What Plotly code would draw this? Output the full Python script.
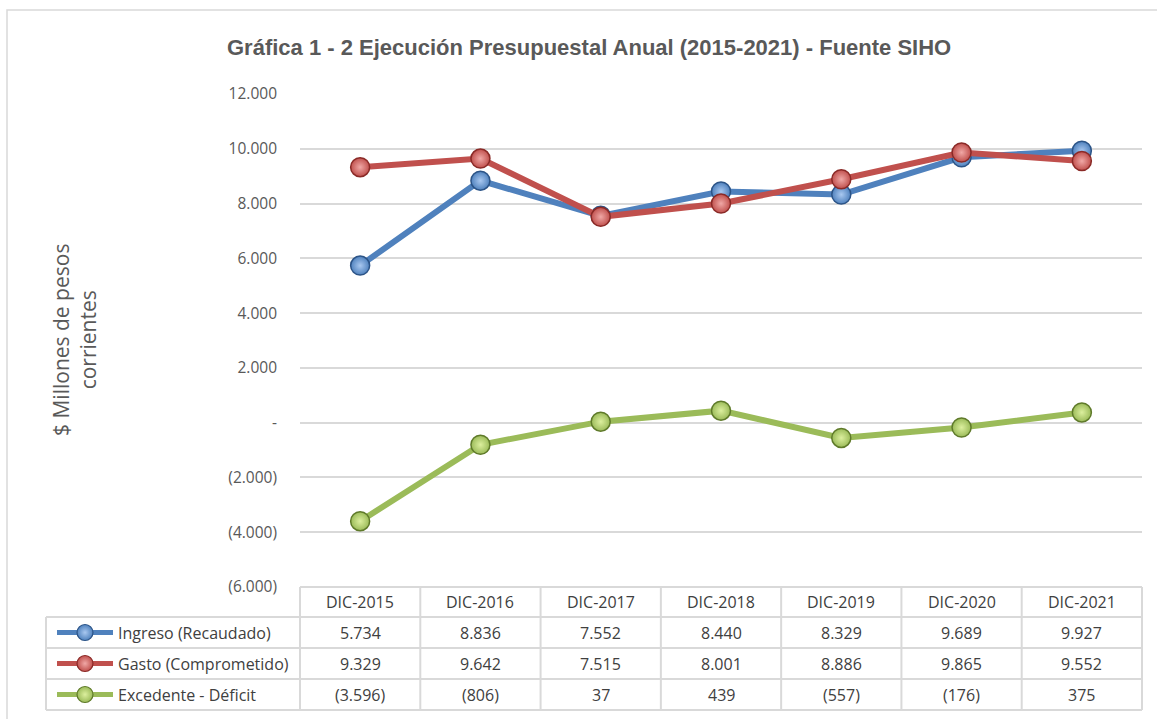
import plotly.graph_objects as go

# ---------------- data ----------------
categories = ["DIC-2015", "DIC-2016", "DIC-2017", "DIC-2018", "DIC-2019", "DIC-2020", "DIC-2021"]
ingreso = [5734, 8836, 7552, 8440, 8329, 9689, 9927]
gasto = [9329, 9642, 7515, 8001, 8886, 9865, 9552]
excedente = [-3596, -806, 37, 439, -557, -176, 375]
series_names = ["Ingreso (Recaudado)", "Gasto (Comprometido)", "Excedente - Déficit"]
y_ticks = [-6000, -4000, -2000, 0, 2000, 4000, 6000, 8000, 10000, 12000]

title_text = "Gráfica 1 - 2 Ejecución Presupuestal Anual (2015-2021) - Fuente SIHO"
y_title = "$ Millones de pesos<br>corrientes"

# ---------------- style ----------------
W, H = 1157, 719
colors = ["#4f81bd", "#c0504d", "#9bbb59"]
edge = ["#2c5487", "#8a2a27", "#5f7a2a"]
glow = ["#a9c8f0", "#f0a8a6", "#dcef9e"]
grid = "#d9d9d9"
txt = "#595959"
FONT = "'Open Sans', Calibri, sans-serif"


def fmt(v):
    if v == 0:
        return "-"
    s = f"{abs(v):,}".replace(",", ".")
    return f"({s})" if v < 0 else s


def px(x):
    return x / W


def py(y):
    return 1 - y / H


plot_l, plot_r, plot_t, plot_b = 300, 1142, 94, 587
row_lines = [587, 617, 648, 679, 710]
tab_left = 46

fig = go.Figure()
all_series = [ingreso, gasto, excedente]
for i, (name, vals) in enumerate(zip(series_names, all_series)):
    fig.add_trace(go.Scatter(
        x=categories, y=vals, name=name, mode="lines+markers",
        line=dict(color=colors[i], width=6),
        marker=dict(size=19, color=colors[i],
                    line=dict(color=edge[i], width=1.5),
                    gradient=dict(type="radial", color=glow[i])),
        showlegend=False, xaxis="x", yaxis="y",
    ))

# legend keys inside the data table (overlay axis in pixel units)
for i, name in enumerate(series_names):
    yc = (row_lines[i + 1] + row_lines[i + 2]) / 2
    fig.add_trace(go.Scatter(
        x=[57, 113], y=[yc, yc], mode="lines",
        line=dict(color=colors[i], width=5),
        showlegend=False, xaxis="x2", yaxis="y2", hoverinfo="skip"))
    fig.add_trace(go.Scatter(
        x=[85], y=[yc], mode="markers",
        marker=dict(size=16, color=colors[i],
                    line=dict(color=edge[i], width=1.2),
                    gradient=dict(type="radial", color=glow[i])),
        showlegend=False, xaxis="x2", yaxis="y2", hoverinfo="skip"))

shapes = []
# chart border
shapes.append(dict(type="rect", xref="paper", yref="paper",
                   x0=px(7), x1=px(W + 5), y0=py(H + 5), y1=py(10),
                   line=dict(color=grid, width=1.5), fillcolor="rgba(0,0,0,0)"))
# table horizontal lines
for k, yl in enumerate(row_lines):
    x0 = plot_l if k == 0 else tab_left
    shapes.append(dict(type="line", xref="paper", yref="paper",
                       x0=px(x0), x1=px(plot_r), y0=py(yl), y1=py(yl),
                       line=dict(color=grid, width=2)))
# table vertical lines
ncol = len(categories)
colw = (plot_r - plot_l) / ncol
for k in range(ncol + 1):
    xl = plot_l + k * colw
    shapes.append(dict(type="line", xref="paper", yref="paper",
                       x0=px(xl), x1=px(xl), y0=py(row_lines[0]), y1=py(row_lines[-1]),
                       line=dict(color=grid, width=2)))
shapes.append(dict(type="line", xref="paper", yref="paper",
                   x0=px(tab_left), x1=px(tab_left), y0=py(row_lines[1]), y1=py(row_lines[-1]),
                   line=dict(color=grid, width=2)))

annotations = []
# title
annotations.append(dict(text=f"<b>{title_text}</b>", x=px(589), y=py(47), xref="paper", yref="paper",
                        showarrow=False, xanchor="center", yanchor="middle",
                        font=dict(family="'Liberation Sans Narrow', 'Arial Narrow', 'Liberation Sans', Arial, sans-serif",
                                  size=22, color=txt)))
# y axis title
annotations.append(dict(text=y_title, x=px(74), y=py(340), xref="paper", yref="paper",
                        showarrow=False, textangle=-90, xanchor="center", yanchor="middle",
                        align="center", font=dict(family=FONT, size=21, color=txt)))
# table header
for k, c in enumerate(categories):
    xc = plot_l + (k + 0.5) * colw
    annotations.append(dict(text=c, x=px(xc), y=py((row_lines[0] + row_lines[1]) / 2),
                            xref="paper", yref="paper", showarrow=False,
                            xanchor="center", yanchor="middle",
                            font=dict(family=FONT, size=16, color="#404040")))
# table body
for i, (name, vals) in enumerate(zip(series_names, all_series)):
    yc = (row_lines[i + 1] + row_lines[i + 2]) / 2
    annotations.append(dict(text=name, x=px(116), y=py(yc), xref="paper", yref="paper",
                            showarrow=False, xanchor="left", yanchor="middle",
                            font=dict(family=FONT, size=16, color="#404040")))
    for k, v in enumerate(vals):
        xc = plot_l + (k + 0.5) * colw
        annotations.append(dict(text=fmt(v), x=px(xc), y=py(yc), xref="paper", yref="paper",
                                showarrow=False, xanchor="center", yanchor="middle",
                                font=dict(family=FONT, size=16, color="#404040")))

fig.update_layout(
    width=W, height=H,
    margin=dict(l=0, r=0, t=0, b=0, pad=0, autoexpand=False),
    paper_bgcolor="white", plot_bgcolor="rgba(0,0,0,0)",
    xaxis=dict(domain=[px(plot_l), px(plot_r)], type="category",
               range=[-0.5, len(categories) - 0.5], automargin=False,
               showticklabels=False, showgrid=False, zeroline=False, showline=False,
               fixedrange=True),
    yaxis=dict(domain=[py(plot_b), py(plot_t)], range=[-6000, 12000], automargin=False,
               tickvals=y_ticks, ticktext=[fmt(v) for v in y_ticks],
               showgrid=True, gridcolor=grid, gridwidth=1.5, zeroline=False,
               showline=False, ticks="", ticklabelstandoff=22,
               tickfont=dict(family=FONT, size=15.5, color=txt), fixedrange=True),
    xaxis2=dict(domain=[0, 1], range=[0, W], visible=False, anchor="y2",
                automargin=False, fixedrange=True),
    yaxis2=dict(domain=[0, 1], range=[H, 0], visible=False, anchor="x2",
                automargin=False, fixedrange=True),
    shapes=shapes, annotations=annotations,
    showlegend=False,
)

fig.write_html("out.html", config={"displayModeBar": False},
               post_script="document.body.style.margin='0';document.body.style.overflow='hidden';")
